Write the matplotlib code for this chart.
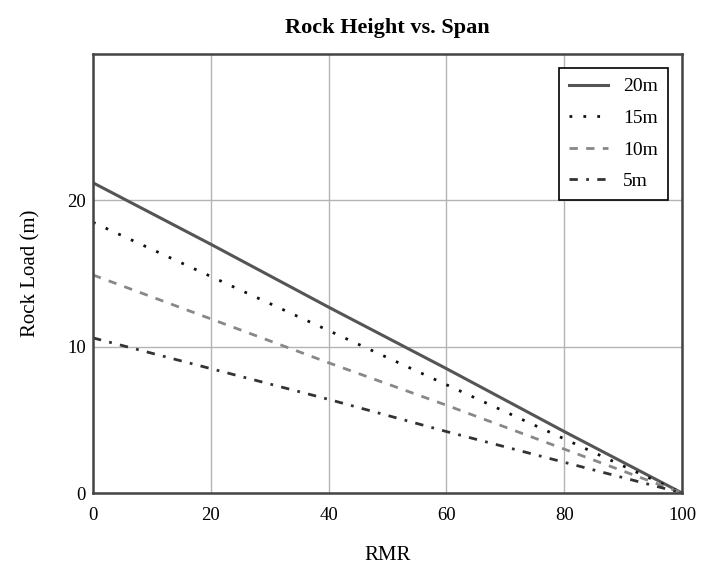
import matplotlib.pyplot as plt

# RMR values and rock load
rmr = [0, 20, 40, 60, 80, 100]
load_20m = [21.2, 17.0, 12.7, 8.5, 4.2, 0]
load_15m = [18.5, 14.8, 11.1, 7.4, 3.7, 0]
load_10m = [14.9, 11.9, 8.9, 6.0, 3.0, 0]
load_5m = [10.6, 8.5, 6.4, 4.2, 2.1, 0]
labels = ['20m', '15m', '10m', '5m']

plt.rcParams['font.family'] = ['Liberation Serif', 'DejaVu Serif']

fig = plt.figure(figsize=(7.1, 5.71), dpi=100)
ax = fig.add_axes([0.131, 0.1366, 0.8296, 0.7688])

ax.plot(rmr, load_20m, color='#555555', lw=2.2, ls='-', label=labels[0])
ax.plot(rmr, load_15m, color='#111111', lw=2.0, ls=(0, (1, 4)), label=labels[1])
ax.plot(rmr, load_10m, color='#888888', lw=2.0, ls=(0, (3, 3)), label=labels[2])
ax.plot(rmr, load_5m, color='#333333', lw=2.0, ls=(0, (3, 3, 1, 3)), label=labels[3])

ax.set_xlim(0, 100)
ax.set_ylim(0, 30)
ax.set_xticks([0, 20, 40, 60, 80, 100])
ax.set_yticks([0, 10, 20])
ax.tick_params(length=0, labelsize=13.5)
ax.tick_params(axis='x', pad=10)
ax.tick_params(axis='y', pad=5)
ax.grid(True, color='#b4b4b4', lw=1)
for s in ax.spines.values():
    s.set_color('#444444')
    s.set_linewidth(1.8)

ax.set_title('Rock Height vs. Span', fontsize=16, fontweight='bold', pad=15)
ax.set_xlabel('RMR', fontsize=15, labelpad=16)
ax.set_ylabel('Rock Load (m)', fontsize=15, labelpad=19)

leg = ax.legend(loc='upper right', bbox_to_anchor=(0.976, 0.968), borderaxespad=0,
                fontsize=14, fancybox=False, framealpha=1, edgecolor='black',
                handlelength=2.0, handletextpad=0.8, borderpad=0.5,
                labelspacing=0.72)
leg.get_frame().set_linewidth(1.2)

fig.savefig('out.png', dpi=100)
